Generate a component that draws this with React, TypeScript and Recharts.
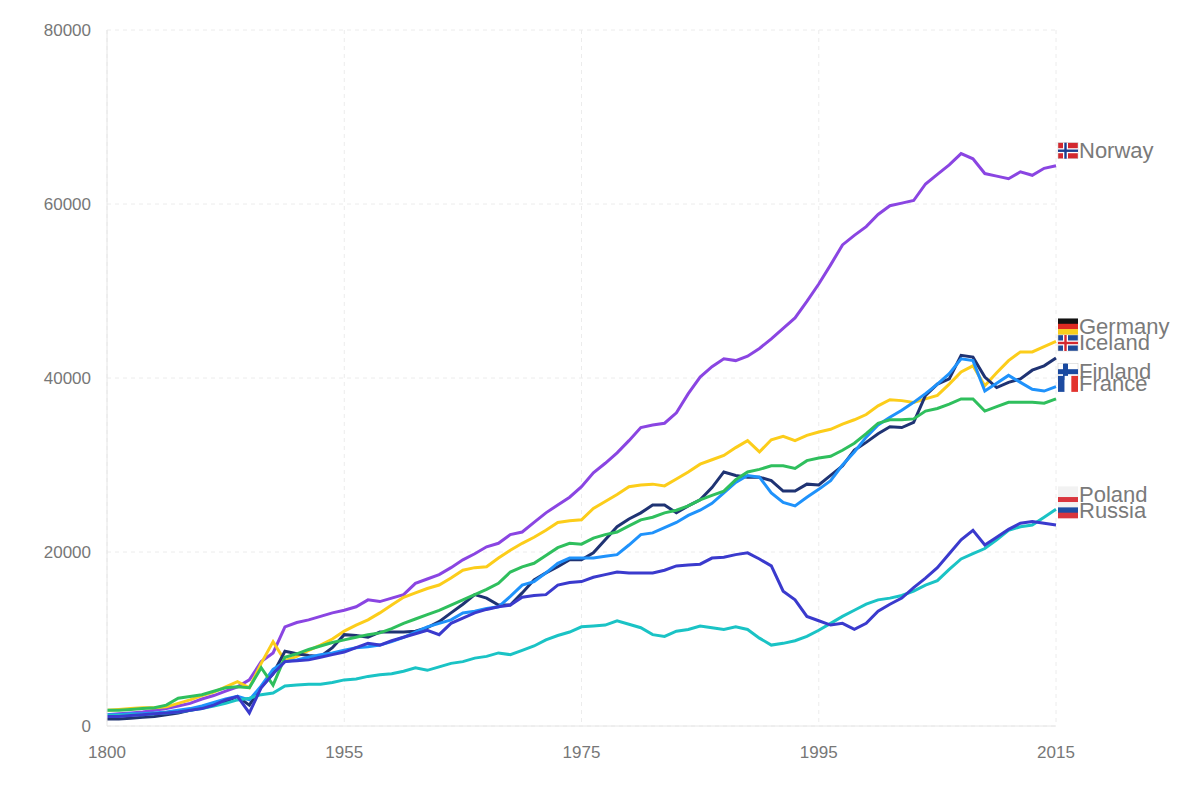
import React from "react";
import { LineChart, Line, XAxis, YAxis, CartesianGrid, LabelList } from "recharts";

const years = [
  1800, 1810, 1820, 1830, 1840, 1850, 1860, 1870, 1880, 1890, 1900, 1910, 1920, 1930, 1940, 1950,
  1951, 1952, 1953, 1954,
  1955, 1956, 1957, 1958, 1959, 1960, 1961, 1962, 1963, 1964,
  1965, 1966, 1967, 1968, 1969, 1970, 1971, 1972, 1973, 1974,
  1975, 1976, 1977, 1978, 1979, 1980, 1981, 1982, 1983, 1984,
  1985, 1986, 1987, 1988, 1989, 1990, 1991, 1992, 1993, 1994,
  1995, 1996, 1997, 1998, 1999, 2000, 2001, 2002, 2003, 2004,
  2005, 2006, 2007, 2008, 2009, 2010, 2011, 2012, 2013, 2014, 2015,
];

// GDP per capita, thousands
const norway = [
  1.3, 1.4, 1.5, 1.6, 1.8, 2.0, 2.3, 2.6, 3.1, 3.5, 4.0, 4.5, 5.3, 7.4, 8.4, 11.4,
  11.9, 12.2, 12.6, 13.0,
  13.3, 13.7, 14.5, 14.3, 14.7, 15.1, 16.4, 16.9, 17.4, 18.2,
  19.1, 19.8, 20.6, 21.0, 22.0, 22.3, 23.4, 24.5, 25.4, 26.3,
  27.5, 29.1, 30.2, 31.4, 32.8, 34.3, 34.6, 34.8, 36.0, 38.2,
  40.1, 41.3, 42.2, 42.0, 42.5, 43.4, 44.5, 45.7, 46.9, 48.8,
  50.8, 53.0, 55.3, 56.4, 57.4, 58.8, 59.8, 60.1, 60.4, 62.3,
  63.4, 64.5, 65.8, 65.2, 63.5, 63.2, 62.9, 63.7, 63.3, 64.1, 64.4,
];
const germany = [
  1.8, 1.9, 2.0, 2.1, 2.1, 2.2, 2.6, 3.0, 3.5, 3.9, 4.5, 5.1, 4.4, 7.2, 9.7, 7.5,
  8.0, 8.7, 9.3, 10.0,
  10.9, 11.6, 12.2, 13.0, 13.9, 14.8, 15.3, 15.8, 16.2, 17.0,
  17.9, 18.2, 18.3, 19.3, 20.2, 21.0, 21.7, 22.5, 23.4, 23.6,
  23.7, 25.0, 25.8, 26.6, 27.5, 27.7, 27.8, 27.6, 28.4, 29.2,
  30.1, 30.6, 31.1, 32.0, 32.8, 31.5, 32.9, 33.3, 32.8, 33.4,
  33.8, 34.1, 34.7, 35.2, 35.8, 36.8, 37.5, 37.4, 37.2, 37.6,
  38.0, 39.3, 40.7, 41.4, 39.1, 40.6, 42.0, 43.0, 43.0, 43.6, 44.2,
];
const iceland = [
  0.8, 0.8, 0.9, 1.0, 1.1, 1.3, 1.5, 1.8, 2.1, 2.6, 2.8, 3.4, 2.4, 4.5, 6.0, 8.6,
  8.3, 8.1, 8.0, 9.0,
  10.5, 10.4, 10.2, 10.8, 10.8, 10.8, 10.9, 11.3, 12.0, 13.0,
  14.0, 15.1, 14.7, 13.9, 13.9, 15.3, 16.8, 17.6, 18.3, 19.1,
  19.1, 19.9, 21.4, 22.9, 23.8, 24.5, 25.4, 25.4, 24.5, 25.3,
  26.0, 27.4, 29.2, 28.8, 28.6, 28.6, 28.2, 27.0, 27.0, 27.8,
  27.7, 28.8, 29.9, 31.7, 32.6, 33.6, 34.4, 34.3, 34.9, 38.0,
  39.3, 39.9, 42.6, 42.4, 40.1, 38.9, 39.5, 39.9, 40.9, 41.4, 42.3,
];
const finland = [
  1.3, 1.3, 1.4, 1.4, 1.5, 1.6, 1.8, 2.0, 2.3, 2.7, 3.1, 3.4, 3.0, 4.6, 6.5, 7.4,
  7.6, 7.9, 8.2, 8.4,
  8.7, 9.0, 9.1, 9.3, 9.7, 10.2, 10.8, 11.4, 11.8, 12.2,
  13.0, 13.2, 13.5, 13.7, 14.9, 16.2, 16.6, 17.6, 18.7, 19.3,
  19.3, 19.3, 19.5, 19.7, 20.8, 22.0, 22.2, 22.8, 23.4, 24.2,
  24.8, 25.6, 26.8, 28.0, 28.8, 28.6, 26.8, 25.7, 25.3, 26.3,
  27.2, 28.2, 30.0, 31.5, 33.2, 34.6, 35.5, 36.3, 37.2, 38.2,
  39.3, 40.5, 42.2, 42.0, 38.5, 39.4, 40.3, 39.5, 38.7, 38.5, 39.0,
];
const france = [
  1.8, 1.8, 1.9, 2.0, 2.1, 2.4, 3.2, 3.4, 3.6, 4.0, 4.4, 4.5, 4.4, 6.7, 4.7, 7.9,
  8.3, 8.8, 9.2, 9.6,
  9.9, 10.2, 10.5, 10.7, 11.2, 11.8, 12.3, 12.8, 13.3, 13.9,
  14.5, 15.1, 15.7, 16.4, 17.7, 18.3, 18.7, 19.6, 20.5, 21.0,
  20.9, 21.6, 22.0, 22.3, 23.0, 23.7, 24.0, 24.5, 24.8, 25.3,
  26.0, 26.5, 27.0, 28.3, 29.2, 29.5, 29.9, 29.9, 29.6, 30.5,
  30.8, 31.0, 31.7, 32.5, 33.6, 34.8, 35.2, 35.2, 35.3, 36.2,
  36.5, 37.0, 37.6, 37.6, 36.2, 36.7, 37.2, 37.2, 37.2, 37.1, 37.6,
];
const poland = [
  1.2, 1.2, 1.3, 1.3, 1.4, 1.5, 1.6, 1.8, 2.0, 2.3, 2.6, 3.0, 3.2, 3.6, 3.8, 4.6,
  4.7, 4.8, 4.8, 5.0,
  5.3, 5.4, 5.7, 5.9, 6.0, 6.3, 6.7, 6.4, 6.8, 7.2,
  7.4, 7.8, 8.0, 8.4, 8.2, 8.7, 9.2, 9.9, 10.4, 10.8,
  11.4, 11.5, 11.6, 12.1, 11.7, 11.3, 10.5, 10.3, 10.9, 11.1,
  11.5, 11.3, 11.1, 11.4, 11.1, 10.1, 9.3, 9.5, 9.8, 10.3,
  11.0, 11.8, 12.6, 13.3, 14.0, 14.5, 14.7, 15.0, 15.5, 16.2,
  16.7, 18.0, 19.2, 19.8, 20.4, 21.4, 22.5, 22.9, 23.1, 24.0, 24.9,
];
const russia = [
  1.1, 1.1, 1.2, 1.3, 1.4, 1.5, 1.6, 1.8, 2.0, 2.4, 3.0, 3.4, 1.5, 4.4, 6.0, 7.4,
  7.5, 7.6, 7.9, 8.2,
  8.5, 9.0, 9.5, 9.3, 9.8, 10.2, 10.6, 11.0, 10.5, 11.8,
  12.4, 13.0, 13.4, 13.7, 13.9, 14.8, 15.0, 15.1, 16.2, 16.5,
  16.6, 17.1, 17.4, 17.7, 17.6, 17.6, 17.6, 17.9, 18.4, 18.5,
  18.6, 19.3, 19.4, 19.7, 19.9, 19.2, 18.4, 15.5, 14.5, 12.6,
  12.1, 11.6, 11.8, 11.1, 11.8, 13.2, 14.0, 14.7, 15.9, 17.0,
  18.2, 19.8, 21.4, 22.5, 20.8, 21.7, 22.6, 23.3, 23.5, 23.3, 23.1,
];

const yTicks = [0, 20000, 40000, 60000, 80000];

const series = [
  { key: "Norway", values: norway, color: "#8a45e2" },
  { key: "Germany", values: germany, color: "#fccd1a" },
  { key: "Iceland", values: iceland, color: "#1f3373" },
  { key: "Finland", values: finland, color: "#1f92fb" },
  { key: "France", values: france, color: "#2fbf5d" },
  { key: "Poland", values: poland, color: "#1ac3c5" },
  { key: "Russia", values: russia, color: "#3a3acd" },
];

const data = years.map((year, i) => {
  const row: Record<string, number> = { year };
  series.forEach((s) => (row[s.key] = s.values[i] * 1000));
  return row;
});

function Flag({ name }: { name: string }) {
  const w = 20, h = 16;
  if (name === "Norway" || name === "Iceland" || name === "Finland") {
    const bg = name === "Norway" ? "#d3282f" : name === "Iceland" ? "#1e4a9a" : "#fff";
    const outer = name === "Finland" ? "#1a4aa0" : "#fff";
    const inner = name === "Norway" ? "#1c3d8f" : name === "Iceland" ? "#d3282f" : "#1a4aa0";
    return (
      <g>
        <rect width={w} height={h} fill={bg} stroke="#ccc" strokeWidth={0.5} />
        <rect x={5} width={5} height={h} fill={outer} />
        <rect y={5.5} width={w} height={5} fill={outer} />
        <rect x={6.3} width={2.4} height={h} fill={inner} />
        <rect y={6.8} width={w} height={2.4} fill={inner} />
      </g>
    );
  }
  if (name === "France") {
    return (
      <g>
        <rect width={w / 3} height={h} fill="#1d4ba0" />
        <rect x={w / 3} width={w / 3} height={h} fill="#fff" />
        <rect x={(2 * w) / 3} width={w / 3} height={h} fill="#e2342f" />
      </g>
    );
  }
  const stripes =
    name === "Germany" ? ["#111", "#dd2a22", "#f7ce1c"] :
    name === "Poland" ? ["#f2f2f2", "#f2f2f2", "#d9363e"] :
    ["#f2f2f2", "#1e4ea3", "#d9363e"];
  return (
    <g>
      {stripes.map((c, i) => (
        <rect key={i} y={(i * h) / 3} width={w} height={h / 3 + 0.3} fill={c} />
      ))}
    </g>
  );
}

const endLabel = (name: string) => (props: any) => {
  const { x, y, index } = props;
  if (index !== years.length - 1) return null;
  const cy = y - 15;
  return (
    <g>
      <g transform={`translate(${x + 2},${cy - 8})`}>
        <Flag name={name} />
      </g>
      <text x={x + 23} y={cy} dy={7.5} fill="#7a7a7a" fontSize={22} fontFamily="Liberation Sans, Arial, sans-serif">
        {name}
      </text>
    </g>
  );
};

export default function App() {
  return (
    <div style={{ width: 1184, height: 784 }}>
      <LineChart width={1184} height={784} data={data} margin={{ top: 22, right: 136, bottom: 26, left: 0 }}>
        <CartesianGrid stroke="#ececec" strokeDasharray="4 4" />
        <XAxis
          dataKey="year"
          interval={19}
          tickLine={false}
          axisLine={{ stroke: "#e6e6e6" }}
          tick={{ fill: "#777", fontSize: 17, fontFamily: "Liberation Sans, Arial, sans-serif" }}
          tickMargin={14}
          height={40}
        />
        <YAxis
          domain={[0, 80000]}
          ticks={yTicks}
          width={99}
          tickLine={false}
          axisLine={{ stroke: "#e6e6e6" }}
          tick={{ fill: "#777", fontSize: 17, fontFamily: "Liberation Sans, Arial, sans-serif" }}
          tickMargin={10}
        />
        {series.map((s) => (
          <Line
            key={s.key}
            dataKey={s.key}
            stroke={s.color}
            strokeWidth={3}
            dot={false}
            isAnimationActive={false}
          >
            <LabelList dataKey={s.key} content={endLabel(s.key)} />
          </Line>
        ))}
      </LineChart>
    </div>
  );
}
